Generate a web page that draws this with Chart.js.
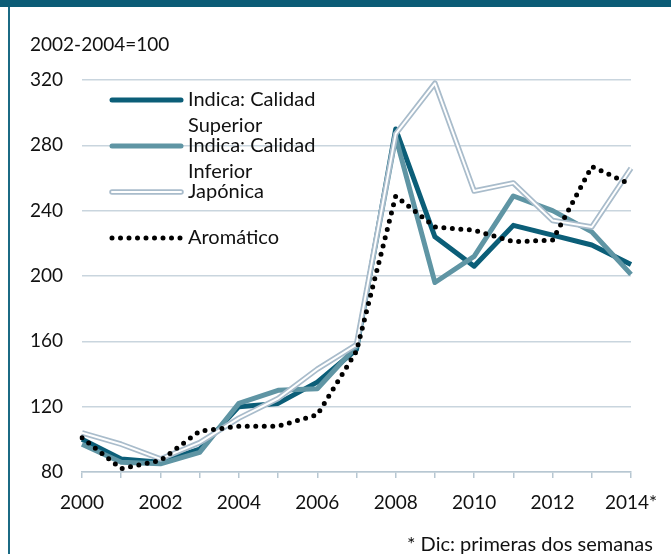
<!DOCTYPE html>
<html>
<head>
<meta charset="utf-8">
<script src="https://cdn.jsdelivr.net/npm/chart.js@4"></script>
<style>
  html, body { margin: 0; padding: 0; background: #fff; }
  .frame { position: relative; width: 671px; height: 554px; overflow: hidden; }
  .topbar { position: absolute; left: 0; top: 0; width: 671px; height: 7px; background: #0b5c76; }
  .leftbar { position: absolute; left: 8px; top: 7px; width: 2px; height: 547px; background: #1b6a84; }
  canvas { position: absolute; left: 0; top: 0; }
</style>
</head>
<body>
<div class="frame">
  <canvas id="chart" width="671" height="554"></canvas>
  <div class="topbar"></div>
  <div class="leftbar"></div>
</div>
<script>
const years = ['2000', '2001', '2002', '2003', '2004', '2005', '2006', '2007',
  '2008', '2009', '2010', '2011', '2012', '2013', '2014*'];
const yTicks = [80, 120, 160, 200, 240, 280, 320];

const indicaSuperior = [100, 88, 86, 94, 120, 122, 135, 155, 290, 224, 206, 231, 225, 219, 207];
const indicaInferior = [97, 86, 85, 92, 122, 130, 131, 157, 285, 196, 212, 249, 240, 227, 201];
const japonica = [104, 97, 88, 98, 113, 125, 143, 158, 287, 318, 252, 257, 234, 230, 266];
const aromatico = [101, 82, 87, 105, 108, 108, 115, 154, 249, 230, 228, 221, 222, 267, 256];

const legendNames = [
  ['Indica: Calidad', 'Superior'],
  ['Indica: Calidad', 'Inferior'],
  ['Japónica'],
  ['Aromático']
];
const unitNote = '2002-2004=100';
const footNote = '* Dic: primeras dos semanas';

const FONT = 'Lato, "Liberation Sans", sans-serif';
const DARK = '#0b5e78';
const MID = '#5f95a4';
const JAP = '#a9bccb';

// legend + notes drawn by hand, legend lines taken from the datasets
const extras = {
  id: 'extras',
  afterDraw(chart) {
    const ctx = chart.ctx;
    ctx.save();
    ctx.fillStyle = '#111';
    ctx.textBaseline = 'middle';
    ctx.textAlign = 'left';
    ctx.font = '19px ' + FONT;
    ctx.fillText(unitNote, 30, 45);
    ctx.font = '20px ' + FONT;
    ctx.fillText(footNote, 407, 545);

    const ds = chart.data.datasets;
    const items = [
      [ds[4]],
      [ds[3]],
      [ds[2], ds[1]],
      [ds[0]]
    ];
    items.forEach((styles, i) => {
      const y = 100 + i * 46;
      styles.forEach(d => {
        ctx.beginPath();
        ctx.strokeStyle = d.borderColor;
        ctx.lineWidth = d.borderWidth;
        ctx.lineCap = 'round';
        ctx.setLineDash(d.borderDash || []);
        ctx.moveTo(112, y);
        ctx.lineTo(181, y);
        ctx.stroke();
      });
      ctx.setLineDash([]);
      ctx.fillStyle = '#111';
      legendNames[i].forEach((t, k) => ctx.fillText(t, 188, y + k * 26));
    });
    ctx.restore();
  }
};

new Chart(document.getElementById('chart'), {
  type: 'line',
  data: {
    labels: years,
    datasets: [
      {
        label: 'Aromático', data: aromatico, borderColor: '#000', borderWidth: 5,
        borderDash: [0, 8.5], borderCapStyle: 'round', order: 0
      },
      { label: 'Japónica', data: japonica, borderColor: '#fff', borderWidth: 2, order: 1 },
      { label: 'Japónica', data: japonica, borderColor: JAP, borderWidth: 5.5, order: 2 },
      { label: 'Indica: Calidad Inferior', data: indicaInferior, borderColor: MID, borderWidth: 5, order: 3 },
      { label: 'Indica: Calidad Superior', data: indicaSuperior, borderColor: DARK, borderWidth: 5, order: 4 }
    ]
  },
  options: {
    responsive: false,
    animation: false,
    events: [],
    layout: { padding: { top: 80, right: 40, bottom: 32, left: 0 } },
    elements: {
      point: { radius: 0 },
      line: { tension: 0, fill: false, borderJoinStyle: 'round' }
    },
    plugins: { legend: { display: false }, tooltip: { enabled: false } },
    scales: {
      x: {
        afterFit: s => { s.height = 50; },
        grid: { drawOnChartArea: false, drawTicks: true, tickLength: 6, color: '#b7c7d2', lineWidth: 1.5 },
        border: { display: true, color: '#b7c7d2', width: 1.5 },
        ticks: {
          color: '#111', font: { size: 19, family: FONT }, padding: 13,
          maxRotation: 0, autoSkip: false,
          callback: (v, i) => (i % 2 === 0 ? years[i] : '')
        }
      },
      y: {
        min: 80, max: 320,
        afterFit: s => { s.width = 82; },
        afterBuildTicks: s => { s.ticks = yTicks.map(v => ({ value: v })); },
        grid: { drawTicks: false, color: '#c9d5de', lineWidth: 1.5 },
        border: { display: false },
        ticks: { color: '#111', font: { size: 19, family: FONT }, padding: 19 }
      }
    }
  },
  plugins: [extras]
});
</script>
</body>
</html>
